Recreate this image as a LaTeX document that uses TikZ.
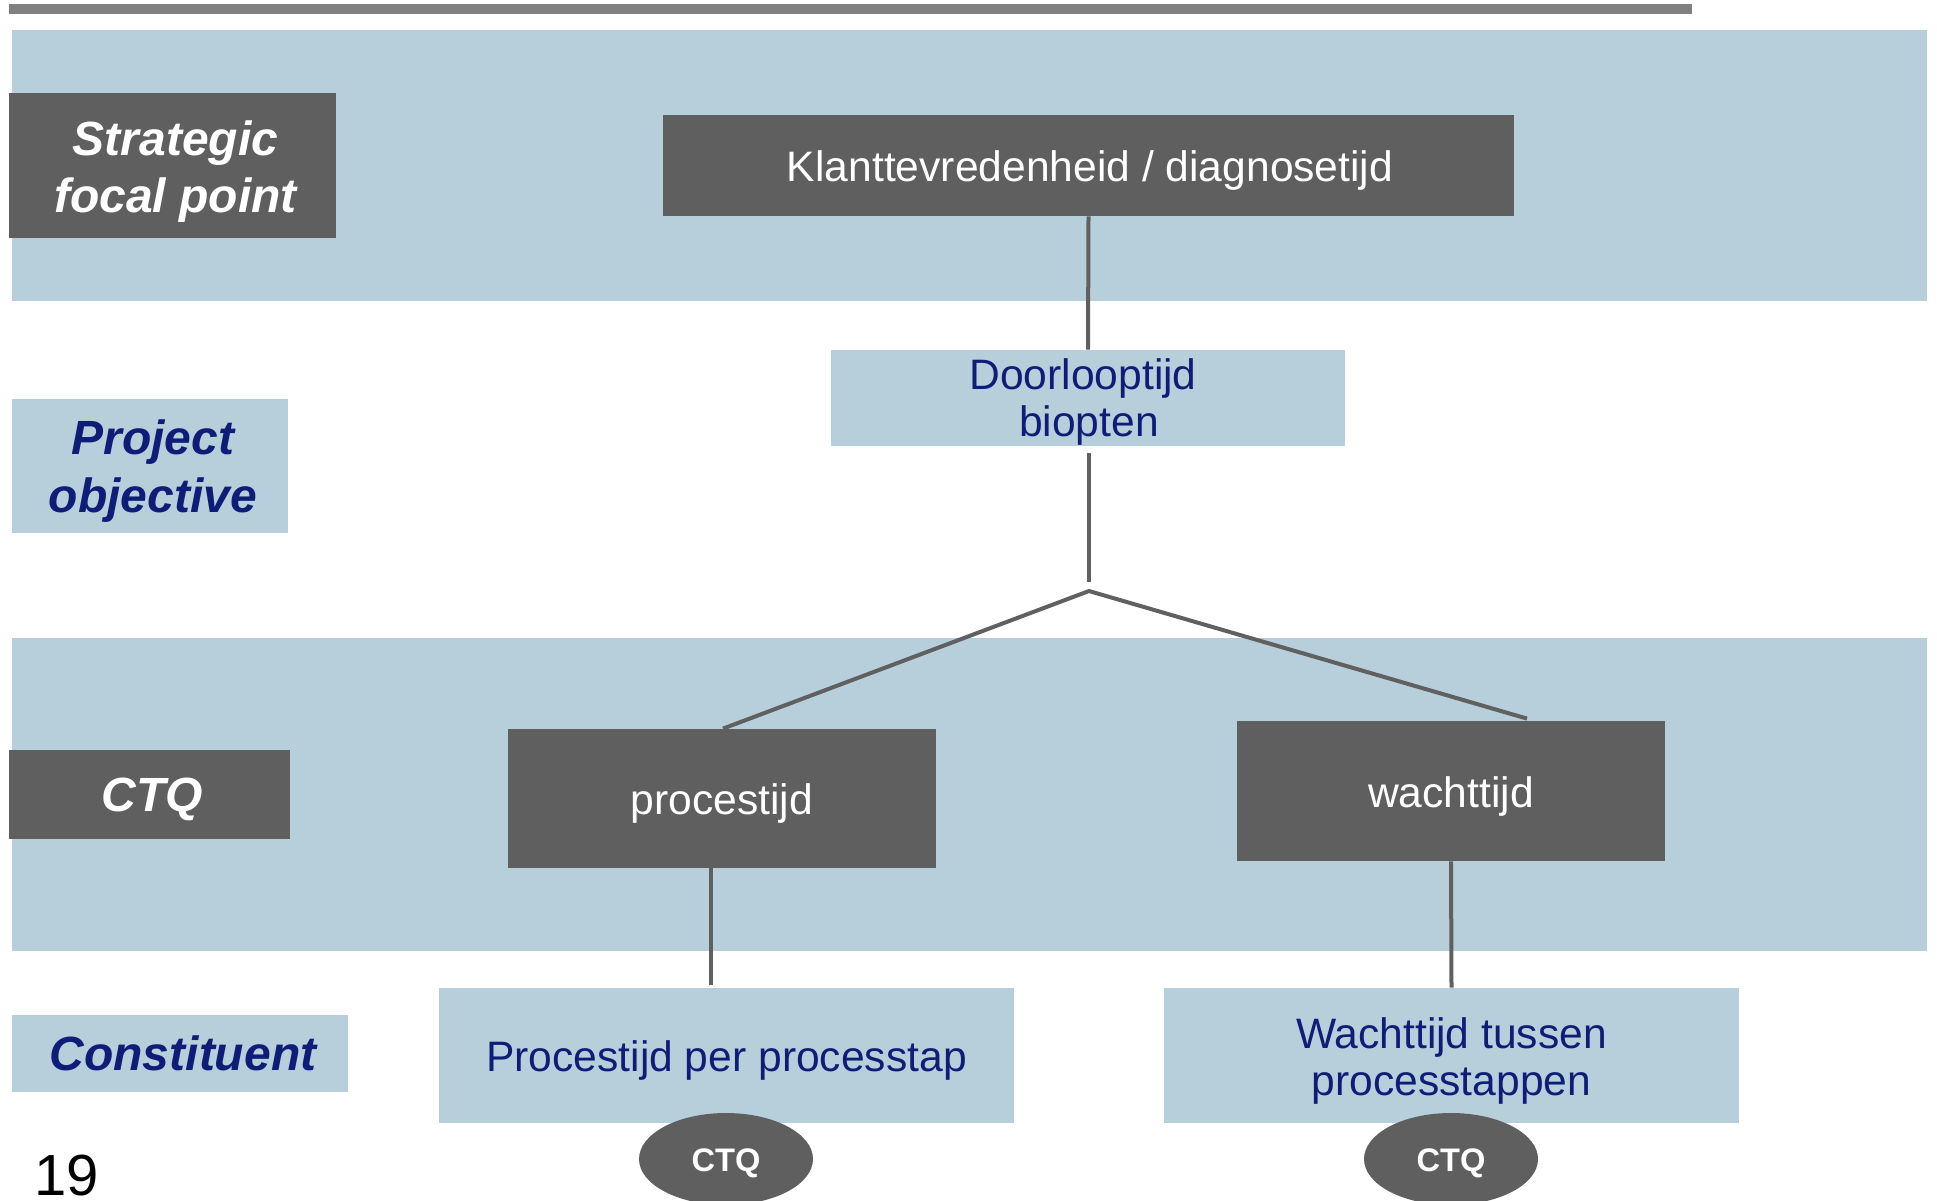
\documentclass[tikz,border=0pt]{standalone}
\usepackage{fontspec}
\setmainfont{Liberation Sans}
\usetikzlibrary{shapes.geometric,calc}
\definecolor{boxgrey}{HTML}{5F5F5F}
\definecolor{bandblue}{HTML}{B7CFDB}
\definecolor{navy}{HTML}{0E1E78}
\definecolor{bargrey}{HTML}{808080}
\definecolor{linegrey}{HTML}{606060}
\tikzset{
  darkbox/.style={fill=boxgrey, draw=none, inner sep=0pt},
  lightbox/.style={fill=bandblue, draw=none, inner sep=0pt},
  whitetxt/.style={text=white, align=center, inner sep=0pt},
  navytxt/.style={text=navy, align=center, inner sep=0pt},
  bodyfont/.style={font=\fontsize{21.3}{23.5}\selectfont},
  labelfont/.style={font=\fontsize{24}{29}\selectfont\bfseries\itshape},
  stratfont/.style={font=\fontsize{24}{28.5}\selectfont\bfseries\itshape},
  conn/.style={draw=linegrey, line width=2pt},
  ctqell/.style={ellipse, fill=boxgrey, draw=none, inner sep=0pt, minimum width=87pt, minimum height=46pt}
}
\begin{document}
\begin{tikzpicture}[x=0.5pt,y=-0.5pt]
\useasboundingbox (0,0) rectangle (1937,1200);
% background bands
\fill[bargrey] (9,4) rectangle (1692,14);
\fill[bandblue] (12,30) rectangle (1927,301);
\fill[bandblue] (12,638) rectangle (1927,951);
% nodes
\node[darkbox, minimum width=163.5pt, minimum height=72.5pt,
  label={[whitetxt, stratfont, xshift=1.5pt, yshift=-3pt]center:Strategic\\focal point}] (strat) at (172.5,165.5) {};
\node[darkbox, minimum width=425.5pt, minimum height=50.5pt,
  label={[whitetxt, bodyfont, xshift=0.8pt, yshift=-2.5pt]center:Klanttevredenheid / diagnosetijd}] (klant) at (1088.5,165.5) {};
\node[lightbox, minimum width=257pt, minimum height=48pt,
  label={[navytxt, bodyfont, xshift=-1pt, yshift=-2pt]center:Doorlooptijd\hspace*{3pt}\\\hspace*{3pt}biopten}] (door) at (1088,398) {};
\node[lightbox, minimum width=138pt, minimum height=67pt,
  label={[navytxt, labelfont, xshift=1.5pt, yshift=-2.7pt]center:Project\\objective}] (proj) at (150,466) {};
\node[darkbox, minimum width=140.5pt, minimum height=44.5pt,
  label={[whitetxt, labelfont, xshift=1.5pt, yshift=-2.5pt]center:CTQ}] (ctqlab) at (149.5,794.5) {};
\node[darkbox, minimum width=214pt, minimum height=69.5pt,
  label={[whitetxt, bodyfont, yshift=-2.5pt]center:procestijd}] (proc) at (722,798.5) {};
\node[darkbox, minimum width=214pt, minimum height=70pt,
  label={[whitetxt, bodyfont, yshift=-2.5pt]center:wachttijd}] (wacht) at (1451,791) {};
\node[lightbox, minimum width=287.5pt, minimum height=67.5pt,
  label={[navytxt, bodyfont, yshift=-2.5pt]center:Procestijd per processtap}] (ppp) at (726.5,1055.5) {};
\node[lightbox, minimum width=287.5pt, minimum height=67.5pt,
  label={[navytxt, bodyfont, yshift=-2.5pt]center:Wachttijd tussen\\processtappen}] (wtp) at (1451.5,1055.5) {};
\node[lightbox, minimum width=168pt, minimum height=38.5pt,
  label={[navytxt, labelfont, xshift=1.5pt]center:Constituent}] (const) at (180,1053.5) {};
\node[ctqell, label={[whitetxt, font=\fontsize{16.3}{19}\selectfont\bfseries, yshift=-2pt]center:CTQ}] (ell1) at (726,1159) {};
\node[ctqell, label={[whitetxt, font=\fontsize{16.3}{19}\selectfont\bfseries, yshift=-2pt]center:CTQ}] (ell2) at (1451,1159) {};
\node[anchor=base west, inner sep=0pt, font=\fontsize{29}{32}\selectfont] (pagenum) at (34,1195) {19};
% connectors
\coordinate (apex) at (1089,591);
\coordinate (apextop) at (1089,582);
\draw[conn] (klant.south) -- (door.north);
\draw[conn] ($(door.south)+(1,7)$) -- (apextop);
\draw[conn] ($(proc.north)+(1,0)$) -- (apex) -- ($(wacht.north)+(76,-2)$);
\draw[conn] ($(proc.south)+(-11,0)$) -- ($(ppp.north)+(-15.5,-3)$);
\draw[conn] (wacht.south) -- (wtp.north);
\end{tikzpicture}
\end{document}
